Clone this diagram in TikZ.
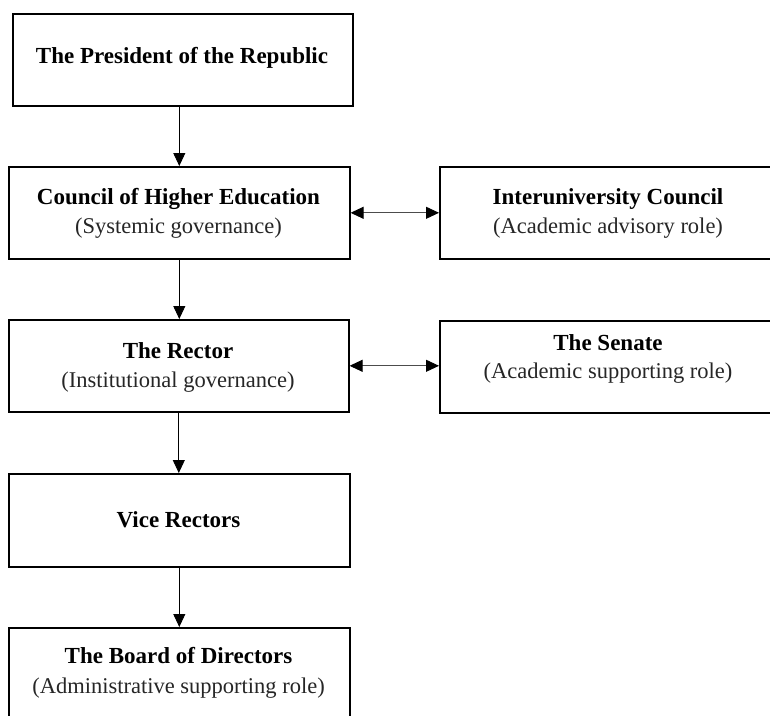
\documentclass[tikz,border=0pt]{standalone}
\usepackage{fontspec}
\setmainfont{Liberation Serif}
\usetikzlibrary{arrows.meta}
\begin{document}
\begin{tikzpicture}[x=1pt,y=-1pt,
  box/.style={draw=black, line width=1.6pt, rectangle, inner sep=0pt, anchor=north west},
  ttl/.style={font=\fontsize{23}{27}\selectfont\bfseries, anchor=base, inner sep=0pt},
  sub/.style={font=\fontsize{22.5}{27}\selectfont, text=black!85, anchor=base, inner sep=0pt},
  tip/.style={Triangle[length=13pt,width=12pt,color=black]},
  arr/.style={line width=0.9pt, -{Triangle[length=13pt,width=12pt,color=black]}},
  darr/.style={line width=0.9pt, draw=black!70, {Triangle[length=13pt,width=12pt,color=black]}-{Triangle[length=13pt,width=12pt,color=black]}}
]
\useasboundingbox (0,0) rectangle (770,715);
\fill[white] (0,0) rectangle (770,715);
\clip (0,0) rectangle (770,715);

% boxes
\node[box, minimum width=340pt, minimum height=92pt] (b1) at (12,13) {};
\node[box, minimum width=341pt, minimum height=92pt] (b2) at (8,166) {};
\node[box, minimum width=338pt, minimum height=92pt] (r1) at (439,166) {};
\node[box, minimum width=340pt, minimum height=92pt] (b3) at (8,319) {};
\node[box, minimum width=338pt, minimum height=92pt] (r2) at (439,320) {};
\node[box, minimum width=341pt, minimum height=93pt] (b4) at (8,473) {};
\node[box, minimum width=341pt, minimum height=110pt] (b5) at (8,627) {};

% texts
\node[ttl] (t1) at (182,63) {The President of the Republic};
\node[ttl] (t2) at (178.5,204) {Council of Higher Education};
\node[sub] (s2) at (178.5,233) {(Systemic governance)};
\node[ttl] (t3) at (608,204) {Interuniversity Council};
\node[sub] (s3) at (608,233) {(Academic advisory role)};
\node[ttl] (t4) at (178,358) {The Rector};
\node[sub] (s4) at (178,387) {(Institutional governance)};
\node[ttl] (t5) at (608,350) {The Senate};
\node[sub] (s5) at (608,378) {(Academic supporting role)};
\node[ttl] (t6) at (178.5,527) {Vice Rectors};
\node[ttl] (t7) at (178.5,663) {The Board of Directors};
\node[sub] (s7) at (178.5,693) {(Administrative supporting role)};

% connectors
\draw[arr] (b1.south -| b2.north) -- (b2.north);
\draw[arr] (b2.south) -- (b3.north -| b2.south);
\draw[arr] (b3.south) -- (b4.north -| b3.south);
\draw[arr] (b4.south) -- (b5.north);
\draw[darr] (b2.east) -- (r1.west |- b2.east);
\draw[darr] (b3.east) -- (r2.west |- b3.east);
\end{tikzpicture}
\end{document}
